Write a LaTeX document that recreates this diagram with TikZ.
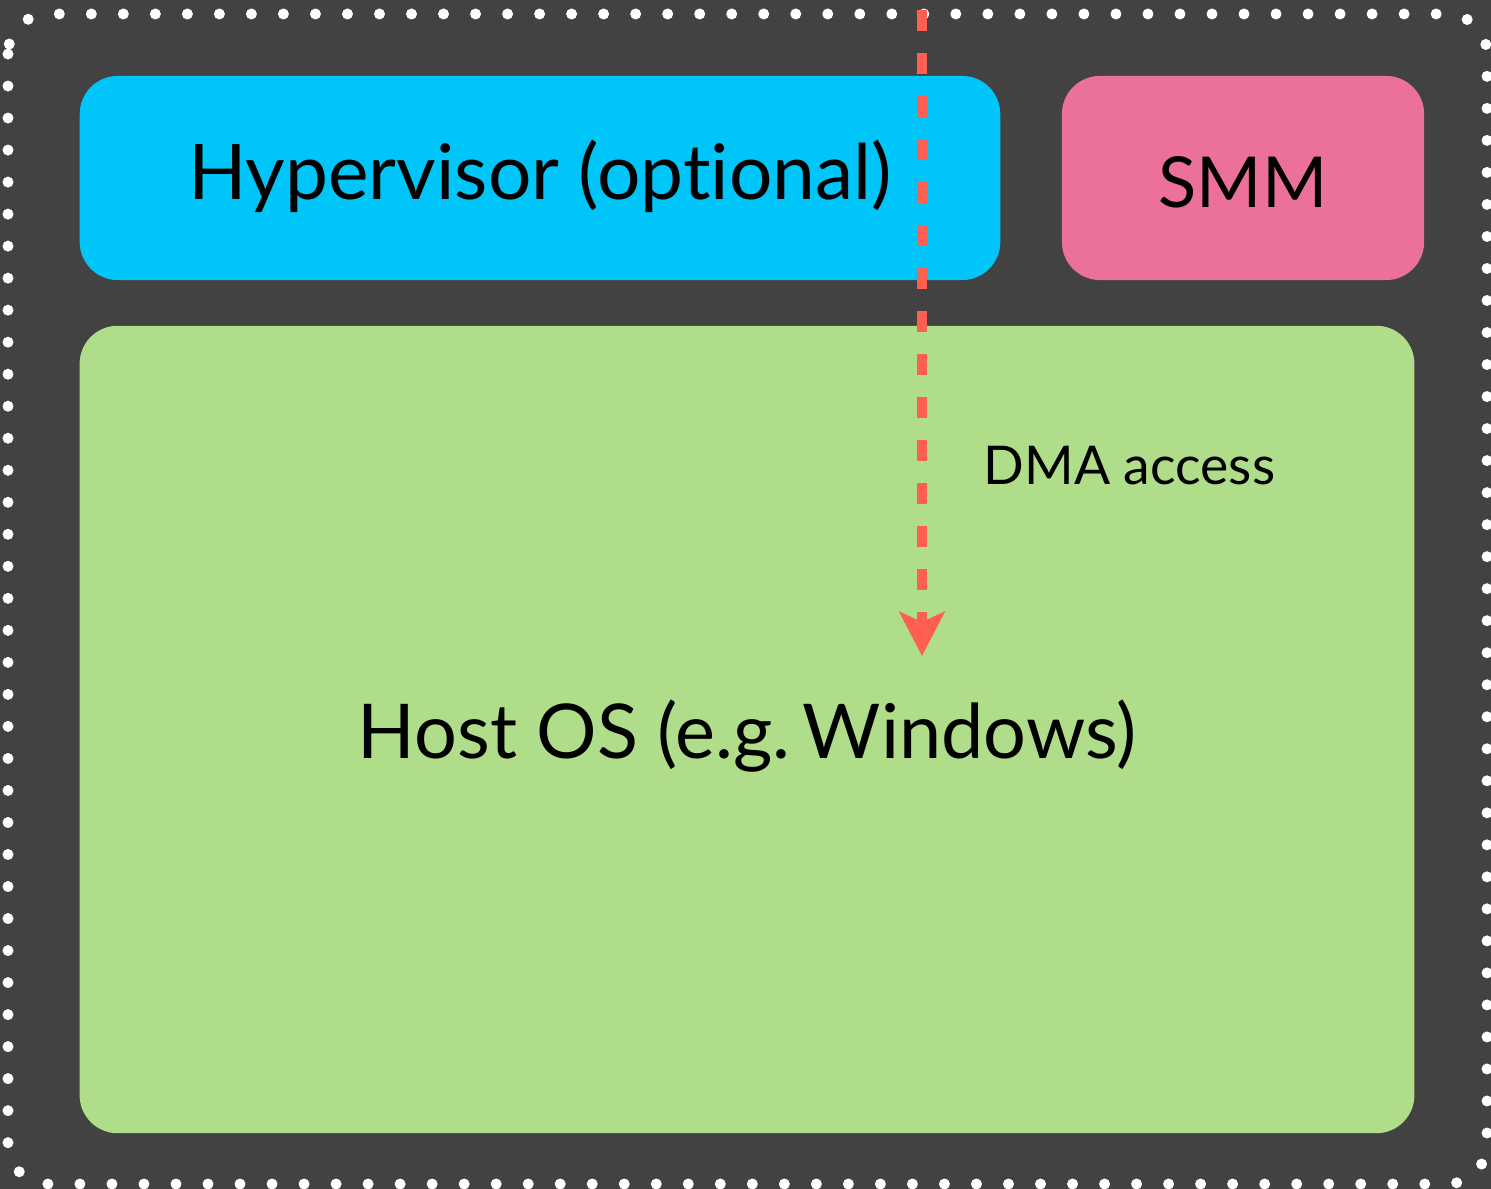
\documentclass[tikz,border=0pt]{standalone}
\usepackage{fontspec}
\setmainfont{Lato}[Ligatures=NoCommon]
\usetikzlibrary{positioning,arrows.meta}
\newcommand\corner{0.38cm}
\newcommand\bigtext{\fontsize{21.8}{26}\selectfont}
\newcommand\hosttext{\fontsize{21.5}{26}\selectfont}
\newcommand\smmtext{\fontsize{20}{24}\selectfont}
\newcommand\smalltext{\fontsize{15.2}{18}\selectfont}
\definecolor{bgdark}{HTML}{424242}
\definecolor{hypblue}{HTML}{00C5F9}
\definecolor{smmpink}{HTML}{EC709C}
\definecolor{hostgreen}{HTML}{B0DD8A}
\definecolor{dmared}{HTML}{FF5F50}
\tikzset{box/.style={rectangle,rounded corners=\corner,inner sep=0pt,text=black,text depth=0pt}}
\tikzset{dots/.style={white,line width=0.11cm,line cap=round,dash pattern=on 0pt off 0.32cm,rounded corners=0.4cm}}
\tikzset{dmaline/.style={dmared,line width=0.1cm,dash pattern=on 0.21cm off 0.22cm,-{Stealth[length=0.44cm,width=0.45cm,inset=0.1cm]}}}

\begin{document}
\begin{tikzpicture}[x=0.01cm,y=-0.01cm]
    \fill[bgdark] (0,0) rectangle (1491,1189);
    \useasboundingbox (0,0) rectangle (1491,1189);
    \draw[dots] (8,14) rectangle (1487,1184);

    \node[box,fill=hypblue,minimum width=9.2cm,minimum height=2.04cm,text height=0.43cm] (hyp) at (540,178) {\bigtext Hypervisor (optional)};
    \node[box,fill=smmpink,minimum width=3.62cm,minimum height=2.04cm,text height=0.58cm] (smm) at (1243,178) {\smmtext SMM};
    \node[box,fill=hostgreen,minimum width=13.34cm,minimum height=8.07cm,text height=0.57cm] (host) at (747,729.5) {\hosttext Host OS (e.g.\,Windows)};

    \coordinate (dmasrc) at (922,10);
    \coordinate (dmadst) at (922,656);
    \draw[dmaline] (dmasrc) -- (dmadst);
    \node[anchor=base west,inner sep=0pt] (dmalabel) at (983,485) {\smalltext DMA access};
\end{tikzpicture}
\end{document}
